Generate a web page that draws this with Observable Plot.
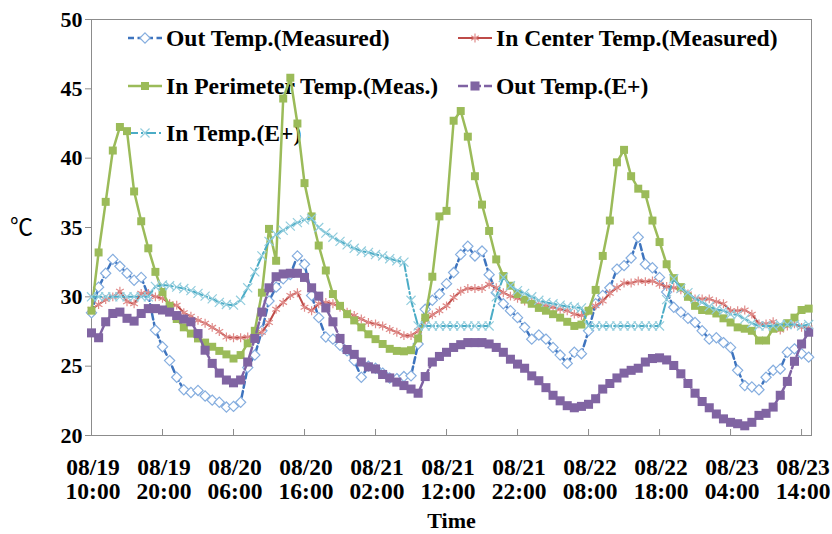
<!DOCTYPE html>
<html><head><meta charset="utf-8">
<script src="https://cdn.jsdelivr.net/npm/d3@7"></script>
<script src="https://cdn.jsdelivr.net/npm/@observablehq/plot@0.6"></script>
<style>
body{margin:0;background:#fff;}
#wrap{position:relative;width:832px;height:534px;font-family:"Liberation Serif","Times New Roman",serif;}
#legend{position:absolute;left:0;top:0;width:832px;height:534px;z-index:0;}
#chart{position:absolute;left:0;top:0;z-index:1;}
.li{position:absolute;font-weight:bold;font-size:23.6px;white-space:nowrap;display:flex;align-items:center;height:30px;color:#000;}
.li svg{margin-right:3px;}
</style></head><body>
<div id="wrap"><div id="legend"></div><div id="chart"></div></div>
<script>
// x tick labels (every 10 hours from 08/19 10:00)
const xTickHours = [0, 10, 20, 30, 40, 50, 60, 70, 80, 90, 100];
const xTickDates = ["08/19","08/19","08/20","08/20","08/21","08/21","08/21","08/22","08/22","08/23","08/23"];
const xTickTimes = ["10:00","20:00","06:00","16:00","02:00","12:00","22:00","08:00","18:00","04:00","14:00"];
const yTicks = [20, 25, 30, 35, 40, 45, 50];

const seriesNames = ["Out Temp.(Measured)", "In Center Temp.(Measured)", "In Perimeter Temp.(Meas.)", "Out Temp.(E+)", "In Temp.(E+)"];

const outMeasured = [28.85, 30.7, 31.7, 32.7, 32.2, 31.7, 31.2, 31.4, 30.1, 27.6,
 26.4, 25.4, 24.2, 23.3, 23.1, 23.25, 22.85, 22.55, 22.4, 22.05,
 22.1, 22.4, 24.9, 25.8, 27.55, 29.7, 30.7, 31.3, 31.6, 32.95,
 32.35, 30.1, 28.5, 27.1, 26.95, 26.5, 26.1, 25.4, 24.2, 25.0,
 24.85, 24.5, 24.15, 24.1, 24.25, 24.3, 26.6, 29.1, 29.75, 30.2,
 30.95, 31.75, 33.05, 33.65, 32.95, 33.3, 31.6, 30.3, 29.5, 29.0,
 28.5, 27.8, 26.95, 27.25, 26.95, 26.35, 25.8, 25.2, 26.0, 25.9,
 27.55, 29.5, 30.1, 30.65, 32.0, 32.25, 32.8, 34.3, 32.35, 32.1,
 31.4, 30.35, 29.25, 28.9, 28.45, 28.15, 27.55, 26.95, 27.05, 26.7,
 26.35, 24.7, 23.6, 23.5, 23.3, 24.2, 24.7, 24.8, 26.0, 26.25,
 25.9, 25.65];

const inCenterMeasured = [29.1, 29.45, 29.8, 30.0, 30.4, 29.65, 29.5, 30.25, 30.25, 30.0,
 29.9, 29.5, 29.4, 28.85, 28.6, 28.3, 28.1, 27.8, 27.5, 27.1,
 27.05, 27.05, 27.1, 27.2, 27.45, 28.15, 29.1, 29.6, 30.1, 30.3,
 29.25, 29.0, 29.5, 29.6, 29.5, 29.25, 28.9, 28.65, 28.4, 28.15,
 28.05, 27.9, 27.65, 27.45, 27.2, 27.2, 27.55, 28.3, 28.7, 29.0,
 29.35, 29.95, 30.4, 30.6, 30.6, 30.6, 30.9, 30.65, 30.3, 30.05,
 29.9, 29.7, 29.6, 29.45, 29.35, 29.25, 29.1, 29.0, 28.75, 28.65,
 29.0, 29.35, 29.7, 30.25, 30.65, 31.0, 31.0, 31.15, 31.1, 31.15,
 30.9, 30.75, 30.65, 30.5, 30.2, 29.85, 29.85, 29.85, 29.65, 29.5,
 29.0, 29.0, 29.05, 28.75, 28.05, 28.05, 28.2, 27.6, 27.9, 28.05,
 27.8, 27.75];

const inPerimeterMeasured = [29.0, 33.2, 36.85, 40.55, 42.25, 41.95, 37.6, 35.45, 33.5, 31.8,
 30.35, 29.35, 28.4, 27.8, 27.35, 27.0, 26.7, 26.4, 26.1, 25.85,
 25.55, 25.8, 26.65, 27.55, 30.3, 34.9, 32.6, 44.3, 45.8, 42.5,
 38.2, 35.8, 33.7, 31.9, 30.2, 29.35, 28.75, 28.3, 27.8, 27.3,
 26.95, 26.6, 26.25, 26.1, 26.07, 26.15, 27.0, 28.5, 31.45, 35.8,
 36.2, 42.7, 43.4, 41.55, 38.7, 36.65, 34.75, 32.7, 31.5, 30.8,
 30.2, 29.8, 29.5, 29.2, 29.0, 28.75, 28.5, 28.2, 27.9, 28.0,
 29.0, 30.5, 32.95, 35.5, 39.7, 40.6, 38.7, 37.8, 37.4, 35.5,
 33.95, 32.35, 31.35, 30.7, 30.0, 29.35, 29.05, 29.0, 28.8, 28.45,
 28.15, 27.8, 27.7, 27.55, 26.85, 26.85, 27.7, 27.8, 28.1, 28.5,
 29.05, 29.15];

const outEplus = [27.4, 27.05, 28.2, 28.8, 28.9, 28.45, 28.25, 28.8, 29.15, 29.15,
 29.05, 28.9, 28.65, 28.4, 28.2, 27.35, 26.15, 25.2, 24.5, 24.0,
 23.8, 24.0, 25.3, 27.0, 28.9, 30.65, 31.45, 31.65, 31.7, 31.7,
 31.4, 30.65, 30.05, 29.2, 28.2, 27.0, 26.2, 25.85, 25.3, 24.95,
 24.8, 24.4, 24.15, 23.85, 23.6, 23.35, 23.05, 24.25, 25.3, 25.7,
 26.0, 26.35, 26.55, 26.7, 26.7, 26.7, 26.6, 26.35, 26.0, 25.5,
 25.15, 24.85, 24.3, 23.95, 23.45, 22.9, 22.5, 22.15, 22.0, 22.1,
 22.25, 22.65, 23.35, 23.75, 24.15, 24.5, 24.7, 24.85, 25.3, 25.55,
 25.6, 25.45, 25.05, 24.45, 23.75, 23.05, 22.45, 22.0, 21.55, 21.2,
 20.95, 20.85, 20.7, 20.95, 21.45, 21.6, 22.05, 22.9, 23.9, 25.35,
 26.6, 27.45];

const inEplus = [30.0, 30.0, 30.0, 30.0, 30.0, 30.0, 30.0, 30.0, 30.0, 30.75,
 30.85, 30.8, 30.7, 30.6, 30.45, 30.25, 30.05, 29.85, 29.6, 29.45,
 29.4, 29.75, 30.65, 31.8, 32.95, 34.0, 34.5, 34.8, 35.1, 35.35,
 35.55, 35.65, 35.0, 34.6, 34.3, 34.0, 33.75, 33.5, 33.3, 33.2,
 33.05, 32.95, 32.75, 32.6, 32.5, 29.75, 27.9, 27.9, 27.9, 27.9,
 27.9, 27.9, 27.9, 27.9, 27.9, 27.9, 27.9, 30.0, 31.4, 30.8,
 30.45, 30.25, 30.0, 29.75, 29.6, 29.5, 29.4, 29.3, 29.25, 29.2,
 27.9, 27.9, 27.9, 27.9, 27.9, 27.9, 27.9, 27.9, 27.9, 27.9,
 27.9, 29.8, 31.3, 30.6, 30.3, 29.85, 29.6, 29.3, 29.1, 29.0,
 28.75, 28.7, 28.4, 28.1, 27.9, 27.9, 27.9, 28.0, 28.0, 28.0,
 27.9, 28.0];

const styles = [
  {values: outMeasured, stroke: "#3E74BE", width: 2.5, dash: "6,3.5", symbol: "diamond2", r: 4.6, mstroke: "#86AEDF", mfill: "#fff", msw: 1.2},
  {values: inCenterMeasured, stroke: "#BE4B48", width: 2, dash: null, symbol: "asterisk", r: 4.2, mstroke: "#E08C8A", mfill: "none", msw: 1.2},
  {values: inPerimeterMeasured, stroke: "#9BBB59", width: 2.5, dash: null, symbol: "square", r: 4.5, mstroke: "none", mfill: "#9BBB59", msw: 0},
  {values: outEplus, stroke: "#7F62A3", width: 2.5, dash: "10,3", symbol: "square", r: 5.1, mstroke: "none", mfill: "#8064A2", msw: 0},
  {values: inEplus, stroke: "#4BACC6", width: 2, dash: "10,3,2,3", symbol: "times", r: 4.2, mstroke: "#93CDDD", mfill: "none", msw: 1.2}
];

const W = 832, H = 534, mL = 91, mR = 21, mT = 19, mB = 99;
const plotH = H - mT - mB;
const tickLabel = new Map(xTickHours.map((h, i) => [h, xTickDates[i] + "\n" + xTickTimes[i]]));

const marks = [
  Plot.frame({stroke: "#8C8C8C"}),
  Plot.axisY({ticks: yTicks, tickSize: 6, tickPadding: 3, stroke: "#8C8C8C", fontSize: 22, fontWeight: "bold", label: null}),
  Plot.axisX({ticks: xTickHours, tickSize: 0, tickPadding: 22, dx: 1.5, tickFormat: d => tickLabel.get(d), lineHeight: 1.04, fontSize: 23.5, fontWeight: "bold", label: null}),
  Plot.ruleX(xTickHours, {x: d => d, stroke: "#8C8C8C", insetTop: plotH - 6})
];
for (const s of styles) {
  marks.push(Plot.line(s.values, {x: (d, i) => i, y: d => d, stroke: s.stroke, strokeWidth: s.width, strokeDasharray: s.dash, strokeLinejoin: "round"}));
  marks.push(Plot.dot(s.values, {x: (d, i) => i, y: d => d, symbol: s.symbol, r: s.r, stroke: s.mstroke, fill: s.mfill, strokeWidth: s.msw}));
}
marks.push(Plot.text(["Time"], {frameAnchor: "bottom", dy: 92, fontSize: 22, fontWeight: "bold", fill: "#000"}));
marks.push(Plot.text(["℃"], {frameAnchor: "left", textAnchor: "middle", dx: -70, fontSize: 23, fontFamily: "Noto Sans CJK SC", fill: "#000"}));

const chart = Plot.plot({
  width: W, height: H, marginLeft: mL, marginRight: mR, marginTop: mT, marginBottom: mB,
  style: {background: "transparent", fontFamily: "Liberation Serif, Times New Roman, serif", color: "#000", overflow: "visible"},
  x: {domain: [0, 101.4]},
  y: {domain: [20, 50]},
  marks
});
document.getElementById("chart").appendChild(chart);

// legend (inside plot area, drawn behind the data)
const legendPos = [[127, 23], [457, 23], [127, 71], [457, 71], [127, 118]];
const sym = d3.scaleOrdinal().domain(["diamond2","asterisk","square","times"]).range([d3.symbolDiamond2, d3.symbolAsterisk, d3.symbolSquare, d3.symbolTimes]);
const lg = d3.select("#legend");
seriesNames.forEach((name, i) => {
  const s = styles[i];
  const item = lg.append("div").attr("class", "li").style("left", legendPos[i][0] + "px").style("top", legendPos[i][1] + "px");
  const sv = item.append("svg").attr("width", 36).attr("height", 20);
  sv.append("line").attr("x1", 1).attr("x2", 35).attr("y1", 10).attr("y2", 10)
    .attr("stroke", s.stroke).attr("stroke-width", s.width).attr("stroke-dasharray", s.dash);
  sv.append("path").attr("transform", "translate(18,10)")
    .attr("d", d3.symbol(sym(s.symbol), s.r * s.r * Math.PI)())
    .attr("fill", s.mfill).attr("stroke", s.mstroke).attr("stroke-width", s.msw);
  item.append("span").text(name);
});
</script>
</body></html>
